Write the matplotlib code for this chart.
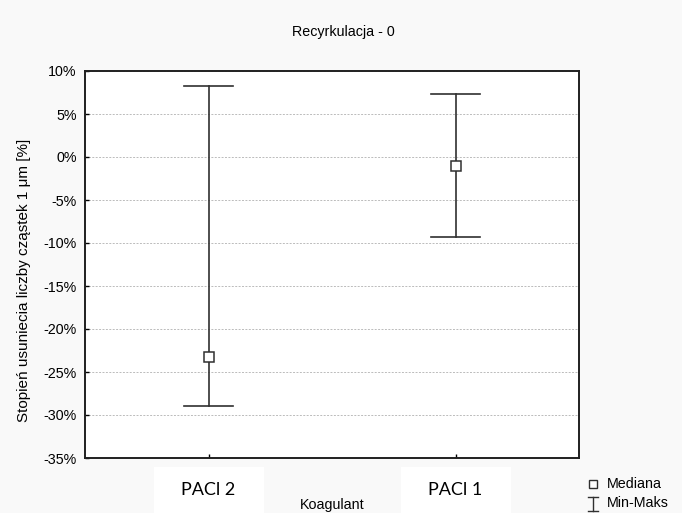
import matplotlib
matplotlib.use("Agg")
import matplotlib.pyplot as plt
from matplotlib.patches import Rectangle
from matplotlib.lines import Line2D

categories = ["PACl 2", "PACl 1"]
medians = [-23.3, -1.0]
mins = [-28.9, -9.3]
maxs = [8.3, 7.3]
yticks = [10, 5, 0, -5, -10, -15, -20, -25, -30, -35]

W, H = 682, 513
fig = plt.figure(figsize=(W / 100, H / 100), dpi=100, facecolor="#f9f9f9")
plt.rcParams["font.family"] = ["Liberation Sans", "DejaVu Sans"]
FS = 10.3

l, r, t, b = 85, 579, 71, 458
ax = fig.add_axes([l / W, 1 - b / H, (r - l) / W, (b - t) / H])
ax.set_facecolor("white")

x = list(range(len(categories)))
for xi, mn, mx, md in zip(x, mins, maxs, medians):
    ax.plot([xi, xi], [mn, mx], color="#303030", lw=1.2, zorder=3)
    for v in (mn, mx):
        ax.plot([xi - 0.1, xi + 0.1], [v, v], color="#303030", lw=1.2, zorder=3)
    ax.plot([xi], [md], marker="s", ms=7, mfc="white", mec="#303030", mew=1.1, zorder=4, ls="none")

ax.set_xlim(-0.5, 1.5)
ax.set_ylim(-35, 10)
ax.set_yticks(yticks)
ax.set_yticklabels([f"{v}%" for v in yticks], fontsize=FS)
ax.set_xticks(x)
ax.set_xticklabels([])
ax.tick_params(axis="y", direction="in", length=3, width=1, pad=6)
ax.tick_params(axis="x", direction="in", length=3, width=1)
ax.grid(axis="y", color="#bbbbbb", ls=(0, (2, 1.5)), lw=0.7)
ax.set_axisbelow(True)
for s in ax.spines.values():
    s.set_linewidth(1.4)
    s.set_color("#202020")

# white boxes with category labels
for xi, lab in zip(x, categories):
    px = l + (xi + 0.5) / 2 * (r - l)
    fig.patches.append(Rectangle(((px - 55) / W, 0), 110 / W, (H - 467) / H,
                                 transform=fig.transFigure, facecolor="white", edgecolor="none", zorder=0))
    fig.text(px / W, 1 - 490 / H, lab, ha="center", va="center", fontsize=13,
             family=["Lato", "DejaVu Sans"])

fig.text((l + r) / 2 / W, 1 - 505 / H, "Koagulant", ha="center", va="center", fontsize=FS)
fig.text(343 / W, 1 - 32 / H, "Recyrkulacja - 0", ha="center", va="center", fontsize=FS)
fig.text(24 / W, 1 - 280 / H, "Stopień usuniecia liczby cząstek 1 μm [%]",
         ha="center", va="center", rotation=90, fontsize=11)

# legend
fig.add_artist(Line2D([593 / W], [1 - 484 / H], marker="s", ms=6, mfc="white", mec="#303030",
                      mew=1.0, ls="none", transform=fig.transFigure))
fig.text(607 / W, 1 - 484 / H, "Mediana", ha="left", va="center", fontsize=FS)
cx = 593
fig.add_artist(Line2D([cx / W, cx / W], [1 - 497 / H, 1 - 511 / H], color="#303030", lw=1, transform=fig.transFigure))
fig.add_artist(Line2D([(cx - 5) / W, (cx + 5) / W], [1 - 497 / H, 1 - 497 / H], color="#303030", lw=1, transform=fig.transFigure))
fig.add_artist(Line2D([(cx - 5) / W, (cx + 5) / W], [1 - 511 / H, 1 - 511 / H], color="#303030", lw=1, transform=fig.transFigure))
fig.text(607 / W, 1 - 503 / H, "Min-Maks", ha="left", va="center", fontsize=FS)

fig.savefig("out.png", dpi=100, facecolor=fig.get_facecolor())
